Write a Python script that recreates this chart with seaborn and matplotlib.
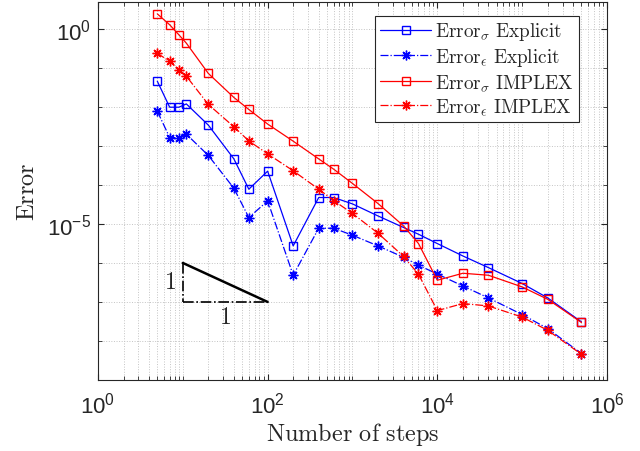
import matplotlib
matplotlib.use("Agg")
import matplotlib.pyplot as plt
import matplotlib.ticker as mticker
import seaborn as sns
import numpy as np
import pandas as pd

# Number of steps (shared by all four series)
steps = [5, 7, 9, 11, 20, 40, 60, 100, 200, 400, 600, 1000, 2000, 4000, 6000,
         1e4, 2e4, 4e4, 1e5, 2e5, 5e5]

# Errors
err_sigma_explicit = [4.56e-2, 9.8e-3, 9.8e-3, 1.19e-2, 3.4e-3, 4.64e-4, 7.76e-5, 2.25e-4,
                      2.73e-6, 4.75e-5, 4.75e-5, 3.26e-5, 1.6e-5, 8.1e-6, 5.44e-6,
                      3.14e-6, 1.51e-6, 7.6e-7, 2.97e-7, 1.27e-7, 3.09e-8]
err_eps_explicit = [7.76e-3, 1.64e-3, 1.64e-3, 2.0e-3, 5.67e-4, 8.2e-5, 1.46e-5, 3.89e-5,
                    4.84e-7, 7.76e-6, 7.76e-6, 5.13e-6, 2.73e-6, 1.4e-6, 8.73e-7,
                    5.2e-7, 2.57e-7, 1.27e-7, 4.75e-8, 2.08e-8, 4.75e-9]
err_sigma_implex = [2.42, 1.27, 0.70, 0.43, 0.0718, 0.0174, 0.00858, 0.00363,
                    1.32e-3, 4.64e-4, 2.53e-4, 1.09e-4, 3.33e-5, 8.89e-6, 3.14e-6,
                    3.6e-7, 5.44e-7, 4.84e-7, 2.43e-7, 1.17e-7, 2.98e-8]
err_eps_implex = [0.238, 0.146, 0.0889, 0.0612, 0.01153, 0.00308, 1.34e-3, 6.24e-4,
                  2.3e-4, 7.76e-5, 3.98e-5, 1.85e-5, 5.78e-6, 1.47e-6, 5.13e-7,
                  6.0e-8, 9.1e-8, 7.9e-8, 4.1e-8, 1.88e-8, 4.56e-9]

# Slope triangle (order 1)
tri_x = [10, 100]
tri_y = [1e-6, 1e-7]

sns.set_style("ticks")
plt.rcParams["font.family"] = ["Liberation Sans", "DejaVu Sans"]
plt.rcParams["mathtext.fontset"] = "cm"

fig = plt.figure(figsize=(6.4, 4.52), dpi=100)
ax = fig.add_axes([0.1531, 0.1571, 0.7953, 0.8356])

series = [
    (err_sigma_explicit, "blue", "-", "s", 5.5, r"$\mathrm{Error}_{\sigma}\ \mathrm{Explicit}$"),
    (err_eps_explicit, "blue", "-.", (8, 2, 0), 7, r"$\mathrm{Error}_{\epsilon}\ \mathrm{Explicit}$"),
    (err_sigma_implex, "red", "-", "s", 5.5, r"$\mathrm{Error}_{\sigma}\ \mathrm{IMPLEX}$"),
    (err_eps_implex, "red", "-.", (8, 2, 0), 7, r"$\mathrm{Error}_{\epsilon}\ \mathrm{IMPLEX}$"),
]

for vals, col, ls, mk, ms, lab in series:
    df = pd.DataFrame({"steps": steps, "err": vals})
    sns.lineplot(data=df, x="steps", y="err", ax=ax, color=col, linestyle=ls,
                 marker=mk, markersize=ms, markerfacecolor="none",
                 markeredgecolor=col, markeredgewidth=1.0, linewidth=0.9,
                 label=lab, sort=False, errorbar=None)

# slope triangle
ax.plot([tri_x[0], tri_x[1]], [tri_y[0], tri_y[1]], color="black", lw=1.8)
ax.plot([tri_x[0], tri_x[0]], [tri_y[0], tri_y[1]], color="black", lw=1.2, ls="-.")
ax.plot([tri_x[0], tri_x[1]], [tri_y[1], tri_y[1]], color="black", lw=1.2, ls="-.")
ax.text(tri_x[0] * 0.82, np.sqrt(tri_y[0] * tri_y[1]), r"$1$", ha="right", va="center", fontsize=17)
ax.text(np.sqrt(tri_x[0] * tri_x[1]), tri_y[1] * 0.8, r"$1$", ha="center", va="top", fontsize=17)

ax.set_xscale("log")
ax.set_yscale("log")
ax.set_xlim(1, 1e6)
ax.set_ylim(1e-9, 10 ** 0.68)

ax.xaxis.set_major_locator(mticker.FixedLocator([1, 1e2, 1e4, 1e6]))
ax.xaxis.set_minor_locator(mticker.LogLocator(base=10, subs=np.arange(1, 10), numticks=50))
ax.yaxis.set_major_locator(mticker.FixedLocator([1e-5, 1]))
ax.yaxis.set_minor_locator(mticker.LogLocator(base=10, subs=(1.0,), numticks=50))
ax.xaxis.set_major_formatter(mticker.LogFormatterSciNotation())
ax.yaxis.set_major_formatter(mticker.LogFormatterSciNotation())
ax.xaxis.set_minor_formatter(mticker.NullFormatter())
ax.yaxis.set_minor_formatter(mticker.NullFormatter())

ax.tick_params(which="both", direction="in", top=True, right=True, color="#262626")
ax.tick_params(which="major", length=4.5, width=0.8, labelsize=16, labelcolor="#262626")
ax.tick_params(axis="x", which="major", pad=8)
ax.tick_params(axis="y", which="major", pad=5)
ax.tick_params(which="minor", length=2.8, width=0.6)
for sp in ax.spines.values():
    sp.set_color("#262626")
    sp.set_linewidth(0.8)

ax.grid(True, which="both", linestyle=":", color="#c4c4c4", linewidth=0.7)
ax.set_axisbelow(True)

ax.set_xlabel(r"$\mathrm{Number\ of\ steps}$", fontsize=17.5, labelpad=2)
ax.set_ylabel(r"$\mathrm{Error}$", fontsize=17.5, labelpad=6)

leg = ax.legend(loc="upper right", bbox_to_anchor=(0.945, 0.965), fontsize=13.8,
                frameon=True, fancybox=False, framealpha=1, edgecolor="#262626",
                handlelength=2.7, borderpad=0.25, labelspacing=0.2, handletextpad=0.2,
                borderaxespad=0)
leg.get_frame().set_linewidth(0.8)

fig.savefig("out.png", dpi=100)
